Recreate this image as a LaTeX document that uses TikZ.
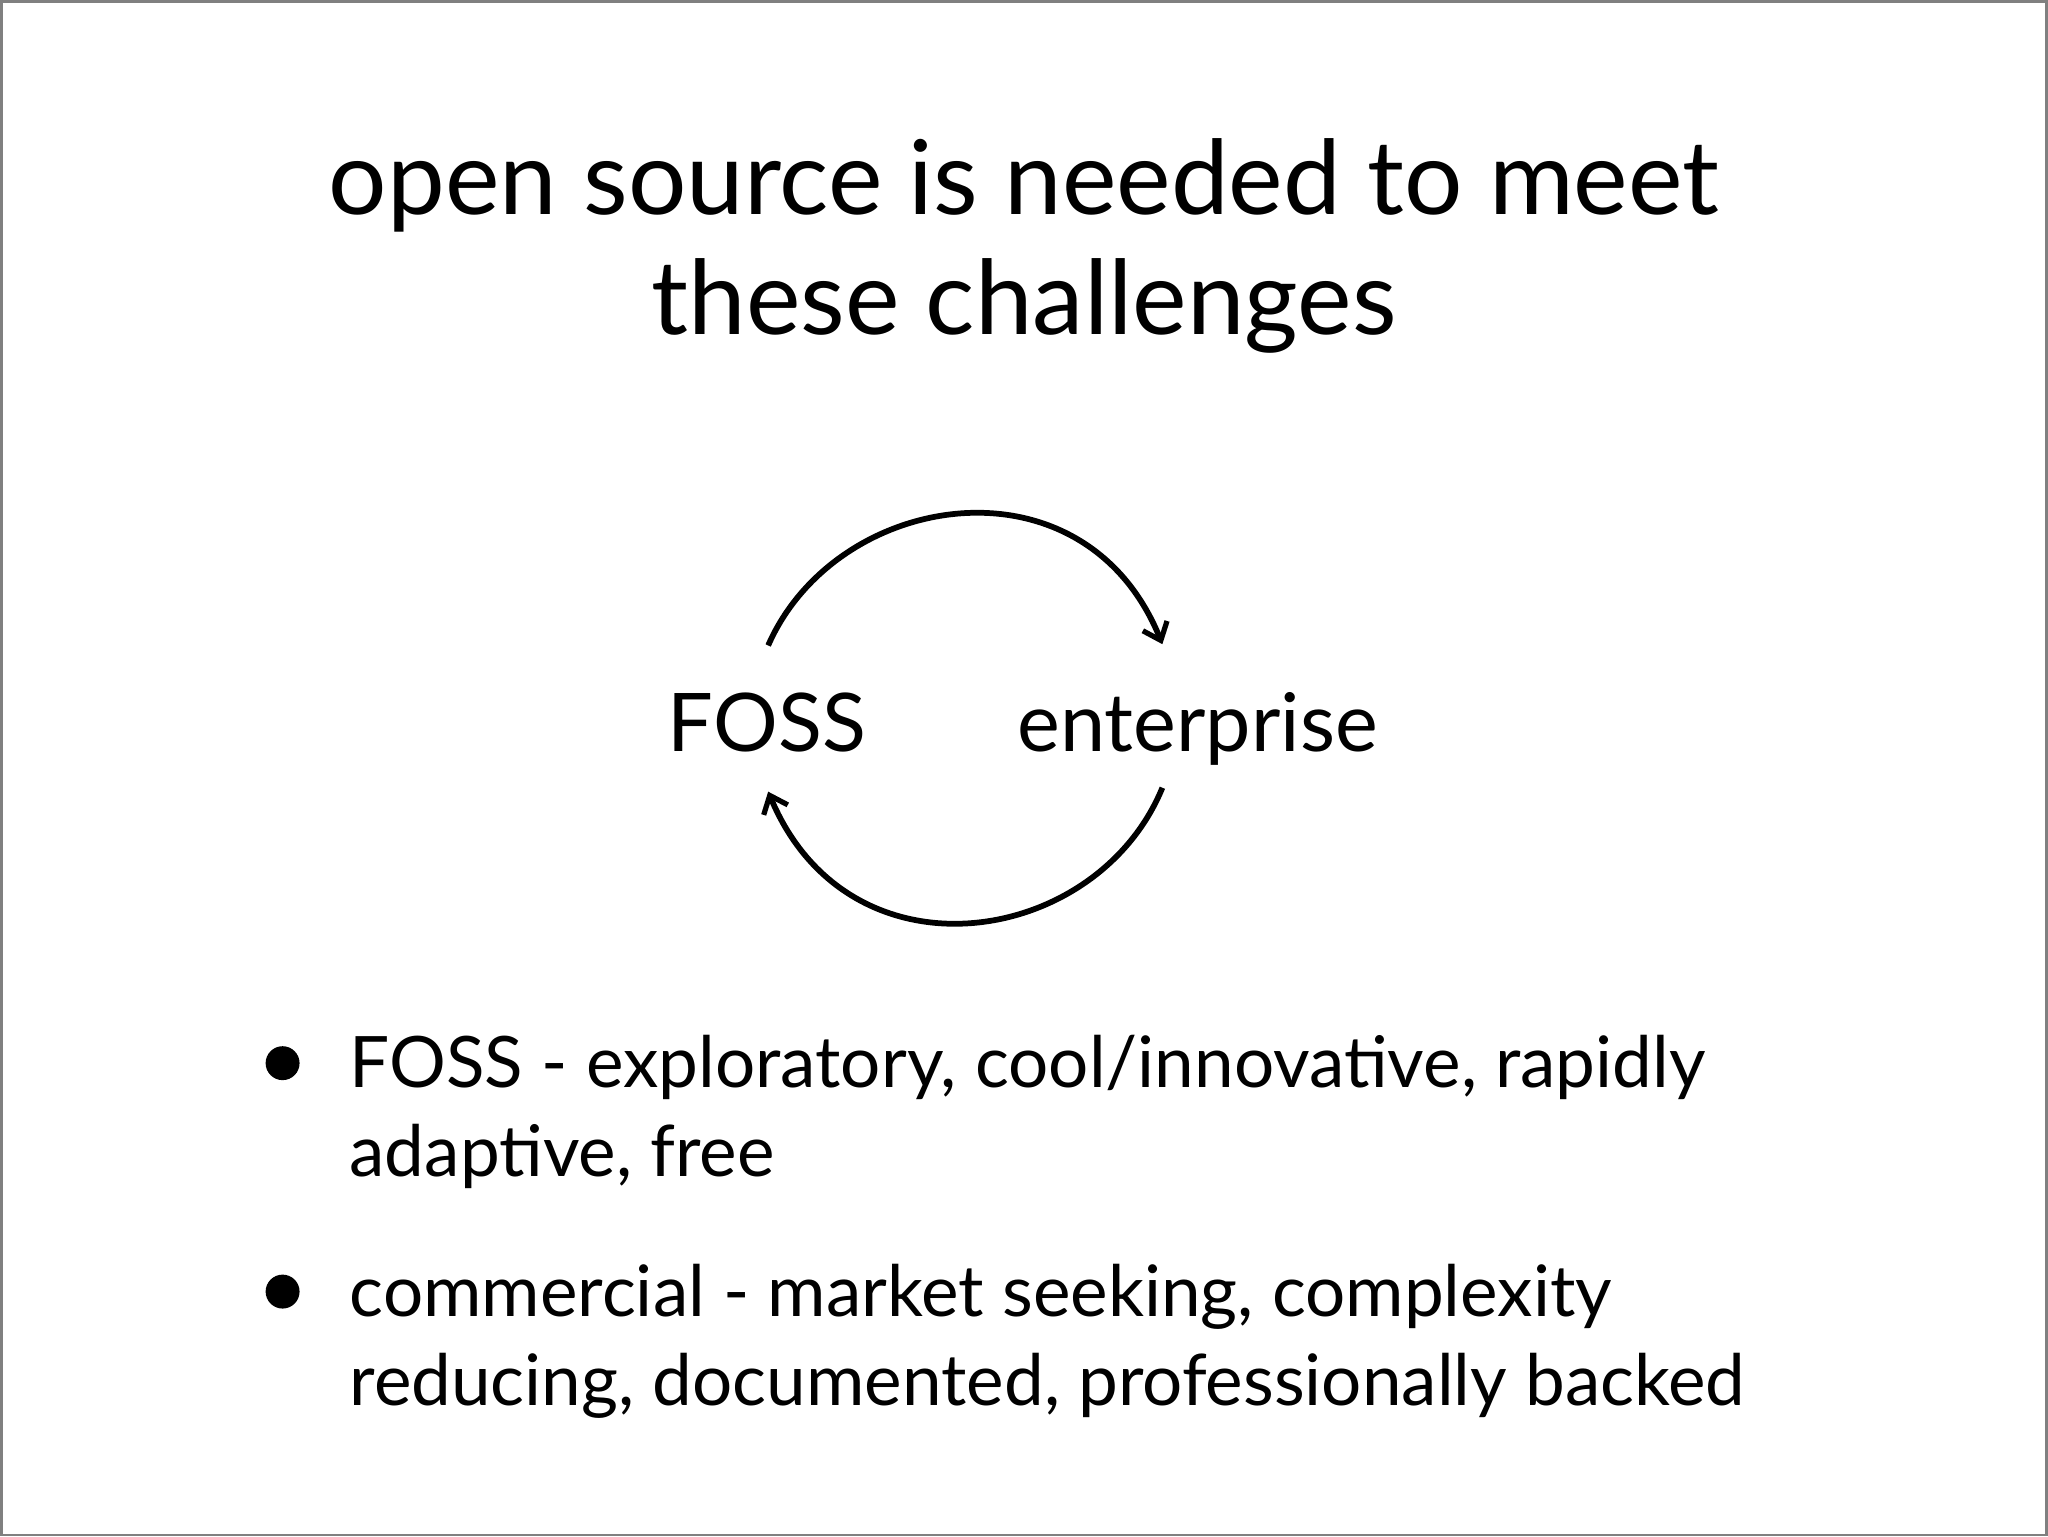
\documentclass[tikz,border=0pt]{standalone}
\usepackage{fontspec}
\setmainfont{Lato}
\usetikzlibrary{arrows.meta}
\begin{document}
\begin{tikzpicture}[x=0.5pt,y=-0.5pt,
  arc/.style={line width=2.2pt,-{Straight Barb[length=6pt,width=10pt,line width=2pt]}},
  lab/.style={inner sep=0pt,font=\fontsize{31}{37}\selectfont}]
\draw[gray,line width=1pt] (0.5,0.5) rectangle (1567.5,1175.5);
\useasboundingbox (0,0) rectangle (1568,1176);
\node[align=center,font=\fontsize{39.5}{46}\selectfont] (title) at (784,188) {open source is needed to meet\\these challenges};
\node[lab,anchor=base] (foss) at (587,575) {FOSS};
\node[lab,anchor=base] (ent) at (917,575) {enterprise};
\coordinate (a1) at (588,494); \coordinate (a2) at (890,493);
\coordinate (b1) at (890,603); \coordinate (b2) at (588,606);
\draw[arc] (a1) .. controls (640,375) and (830,345) .. (a2);
\draw[arc] (b1) .. controls (840,725) and (650,755) .. (b2);
\begin{scope}[every node/.style={anchor=base west,inner sep=0pt,font=\fontsize{27.2}{33}\selectfont}]
\node (b1t) at (267,833) {FOSS - exploratory, cool/innovative, rapidly};
\node (b1u) at (267,901) {adaptive, free};
\node (b2t) at (267,1008) {commercial - market seeking, complexity};
\node (b2u) at (267,1076) {reducing, documented, professionally backed};
\end{scope}
\fill (216,814) circle (13);
\fill (216,989) circle (13);
\end{tikzpicture}
\end{document}
